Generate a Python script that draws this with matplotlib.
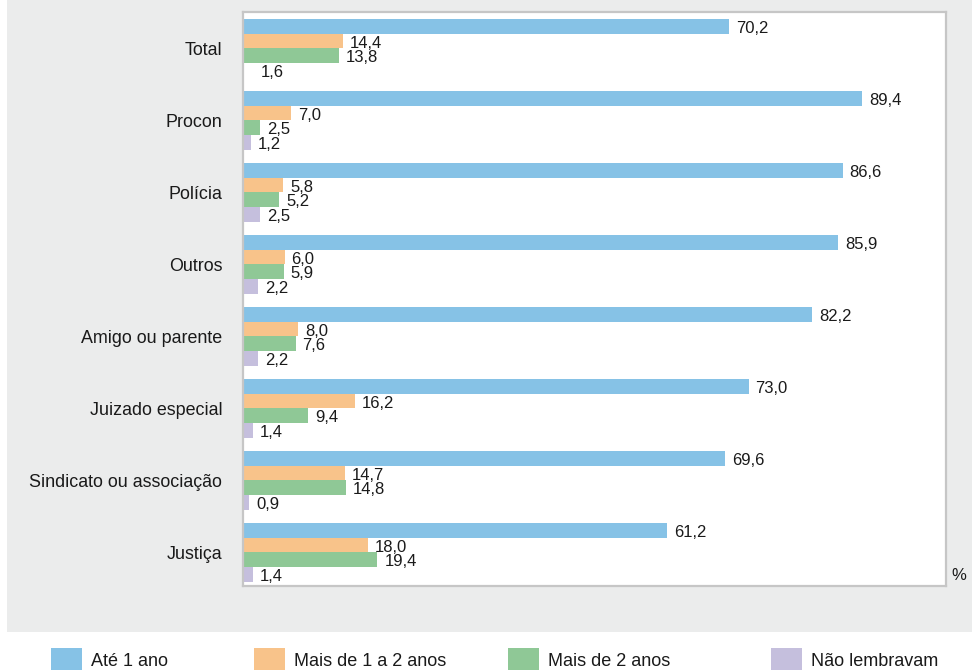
import matplotlib.pyplot as plt
from matplotlib.patches import Rectangle
import numpy as np

plt.rcParams['font.family'] = ['Liberation Sans', 'DejaVu Sans']

categories = ['Total', 'Procon', 'Polícia', 'Outros', 'Amigo ou parente',
              'Juizado especial', 'Sindicato ou associação', 'Justiça']
series_names = ['Até 1 ano', 'Mais de 1 a 2 anos', 'Mais de 2 anos', 'Não lembravam']
ate_1_ano = [70.2, 89.4, 86.6, 85.9, 82.2, 73.0, 69.6, 61.2]
de_1_a_2 = [14.4, 7.0, 5.8, 6.0, 8.0, 16.2, 14.7, 18.0]
mais_de_2 = [13.8, 2.5, 5.2, 5.9, 7.6, 9.4, 14.8, 19.4]
nao_lembravam = [1.6, 1.2, 2.5, 2.2, 2.2, 1.4, 0.9, 1.4]

colors = ['#86c2e6', '#f8c38a', '#8fc896', '#c5bfdd']
bg = '#ebecec'
W, H = 972, 670

fig = plt.figure(figsize=(W / 100, H / 100), dpi=100)
fig.patch.set_facecolor('white')
# grey panel behind the plot
fig.add_artist(Rectangle((7 / W, 1 - 632 / H), 1 - 7 / W, 632 / H,
                         transform=fig.transFigure, facecolor=bg,
                         edgecolor='none', zorder=-10))

ax = fig.add_axes([243 / W, 1 - 586 / H, (946 - 243) / W, (586 - 12) / H])
ax.set_facecolor('white')

y = np.arange(len(categories))
h = 0.204
all_series = [ate_1_ano, de_1_a_2, mais_de_2, nao_lembravam]
for k, vals in enumerate(all_series):
    offs = (k - 1.5) * h
    cols = [colors[k]] * len(vals)
    if k == 3:
        cols[0] = 'white'  # bar not shown for Total in the source
    ax.barh(y + offs, vals, height=h, color=cols, edgecolor='none')
    for yi, v in zip(y, vals):
        ax.text(v + 1.0, yi + offs + 0.03, f'{v:.1f}'.replace('.', ','),
                va='center', ha='left', fontsize=12, color='#1a1a1a')

ax.set_xlim(0, 101.5)
ax.set_ylim(7.467, -0.506)
ax.set_xticks([])
ax.set_yticks(y)
ax.set_yticklabels(categories, fontsize=12.9, color='#1a1a1a')
ax.tick_params(axis='y', length=0, pad=15)
for s in ax.spines.values():
    s.set_color('#c6c6c6')
    s.set_linewidth(1.6)

fig.text(951 / W, 1 - 576 / H, '%', fontsize=12, va='center', ha='left',
         color='#1a1a1a')

# legend along the bottom
leg_x = [51, 254, 508, 771]
for xs, name, c in zip(leg_x, series_names, colors):
    fig.add_artist(Rectangle((xs / W, 0), 31 / W, 22 / H,
                             transform=fig.transFigure, facecolor=c,
                             edgecolor='none'))
    fig.text((xs + 40) / W, 1 - 661 / H, name, fontsize=13, va='center',
             ha='left', color='#1a1a1a')

fig.savefig('out.png', dpi=100)
